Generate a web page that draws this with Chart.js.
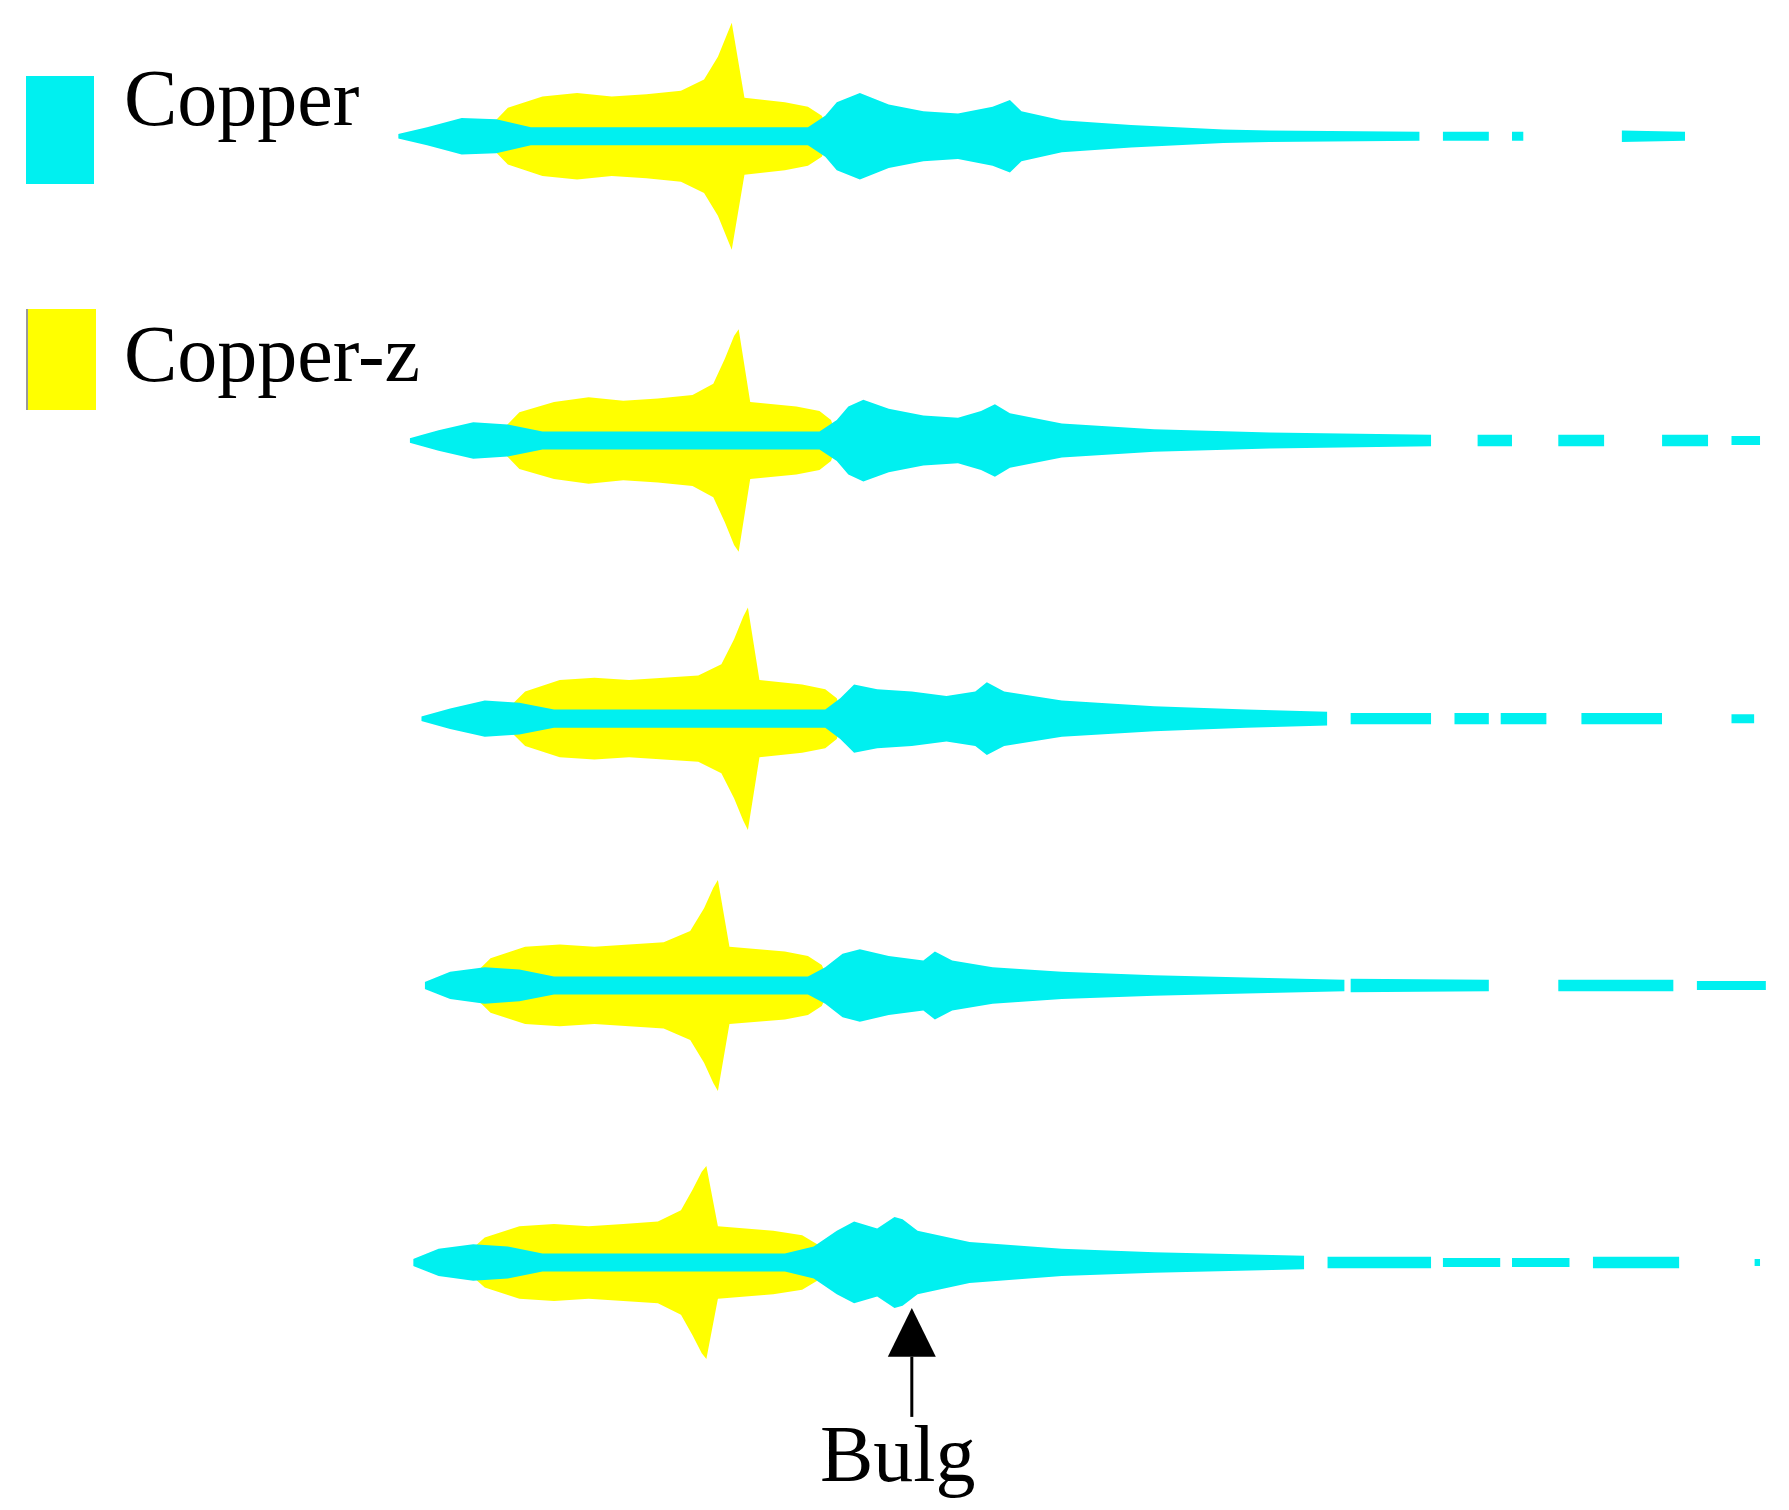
<!DOCTYPE html>
<html><head><meta charset="utf-8">
<script src="https://cdn.jsdelivr.net/npm/chart.js@4"></script>
<style>
html,body{margin:0;padding:0;background:#fff;width:1789px;height:1510px;overflow:hidden}
#wrap{position:absolute;left:0;top:0;width:1789px;height:1510px}
.lab{position:absolute;font-family:"Liberation Serif","DejaVu Serif",serif;color:#000;font-size:80px;line-height:1}
.box{position:absolute;width:68px}
</style></head><body>
<div id="wrap"><canvas id="c" width="1789" height="1510"></canvas></div>
<div class="box" style="left:26px;top:76px;height:108px;background:#00f0f0"></div>
<div class="lab" style="left:124px;top:58px">Copper</div>
<div class="box" style="left:26px;top:309px;height:101px;background:#ffff00;border-left:2px solid #999"></div>
<div class="lab" style="left:124px;top:314px">Copper-z</div>
<div class="lab" style="left:820px;top:1414px">Bulg</div>
<script>
const rowCenters=[120,388,633,868,1112];
const yellowX=[
[420,440,470,500,530,560,590,610,622,630,634,645,680,700,712,720],
[430,450,480,510,540,570,600,618,628,636,640,650,690,710,720,726],
[435,455,485,515,545,575,605,625,636,644,648,658,695,715,725,730],
[405,425,455,485,515,545,575,598,610,618,622,632,680,700,712,720],
[400,420,450,480,510,540,570,590,600,608,612,622,670,695,708,715]];
const yellowW=[
[4,25,35,38,35,37,40,50,70,90,100,34,30,26,18,0],
[4,25,34,38,35,37,40,50,72,92,98,34,30,26,18,0],
[4,24,34,36,34,36,38,48,70,90,98,34,30,26,18,0],
[4,24,34,36,34,36,38,48,68,86,93,34,30,26,18,0],
[4,22,32,34,32,34,36,46,64,80,85,32,28,24,16,0]];
const cyanX=[
[345,370,400,430,460,700,715,725,745,770,800,830,860,875,885,920,980,1060,1100,1230,1231,1250,1290,1291,1310,1320,1321,1405,1460],
[355,380,410,440,470,710,725,735,748,770,800,830,850,862,875,920,1000,1100,1240,1241,1280,1310,1311,1350,1390,1391,1440,1480,1481,1500,1525],
[365,390,420,450,480,715,728,740,760,790,820,845,855,870,920,1000,1080,1150,1151,1170,1240,1241,1260,1290,1291,1300,1340,1341,1370,1440,1441,1500,1520],
[368,390,420,450,480,700,715,730,745,770,800,810,825,860,920,1000,1080,1165,1166,1170,1290,1291,1350,1450,1451,1470,1530],
[358,380,410,440,470,680,705,725,740,760,775,782,795,840,920,1000,1130,1131,1150,1240,1241,1250,1300,1301,1310,1360,1361,1380,1455,1456,1520,1525]];
const cyanW=[
[2,8,16,15,8,8,18,30,38,28,22,20,26,32,22,14,10,6,5,4,null,4,4,null,4,4,null,5,4],
[2,9,16,14,8,8,18,30,36,28,22,20,26,32,24,15,10,7,5,null,5,5,null,5,5,null,5,5,null,4,4],
[2,9,16,14,8,8,18,30,26,24,20,24,32,24,16,11,8,6,null,5,5,null,5,5,null,5,5,null,5,5,null,4,4],
[3,12,16,14,8,8,16,28,32,26,22,30,22,16,12,9,7,5,null,6,5,null,5,5,null,4,4],
[3,12,16,14,8,8,14,28,36,30,40,38,28,18,12,9,6,null,5,5,null,4,4,null,4,4,null,5,5,null,3,3]];

const datasets=[];
function band(xs,ws,cy,color,order){
  const top=xs.map((x,i)=>({x,y:ws[i]==null?null:cy-ws[i]}));
  const bot=xs.map((x,i)=>({x,y:ws[i]==null?null:cy+ws[i]}));
  datasets.push({data:top,borderWidth:0,pointRadius:0,fill:false,order,spanGaps:false,borderColor:color,backgroundColor:color});
  datasets.push({data:bot,borderWidth:0,pointRadius:0,fill:'-1',order,spanGaps:false,borderColor:color,backgroundColor:color});
}
rowCenters.forEach((cy,r)=>{band(yellowX[r],yellowW[r],cy,'#ffff00',2);});
rowCenters.forEach((cy,r)=>{band(cyanX[r],cyanW[r],cy,'#00f0f0',1);});

const arrow={id:'arrow',afterDatasetsDraw(ch){
  const x=ch.scales.x,y=ch.scales.y,c=ch.ctx;
  const px=x.getPixelForValue(790),t=y.getPixelForValue(1152),m=y.getPixelForValue(1195),b=y.getPixelForValue(1248);
  c.save();c.fillStyle='#000';c.strokeStyle='#000';c.lineWidth=3;
  c.beginPath();c.moveTo(px,m);c.lineTo(px,b);c.stroke();
  c.beginPath();c.moveTo(px,t);c.lineTo(px-24,m);c.lineTo(px+24,m);c.closePath();c.fill();c.restore();
}};
new Chart(document.getElementById('c'),{type:'line',data:{datasets},plugins:[arrow],
options:{responsive:false,animation:false,events:[],layout:{padding:0},
plugins:{legend:{display:false},tooltip:{enabled:false},filler:{propagate:false}},
scales:{x:{type:'linear',min:0,max:1550,display:false},y:{min:0,max:1330,reverse:true,display:false}},
elements:{line:{tension:0}}}});
</script></body></html>
